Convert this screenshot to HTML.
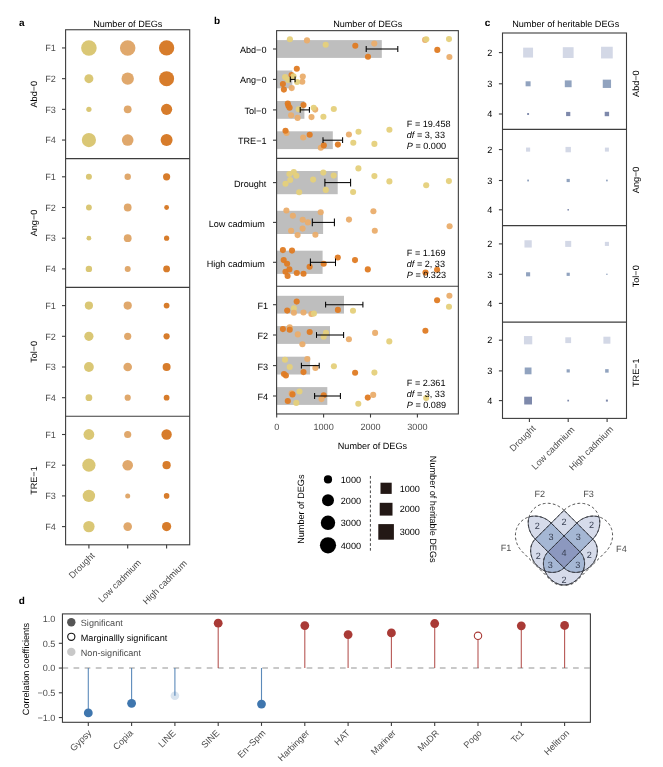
<!DOCTYPE html>
<html lang="en"><head><meta charset="utf-8"><title>Figure</title>
<style>html,body{margin:0;padding:0;background:#fff;}body{width:663px;height:767px;overflow:hidden;}svg{display:block;font-family:'Liberation Sans', Arial, sans-serif;}</style></head><body>
<svg width="663" height="767" viewBox="0 0 663 767" font-family='"Liberation Sans", Arial, sans-serif' shape-rendering="geometricPrecision" text-rendering="geometricPrecision">
<rect x="0" y="0" width="663" height="767" fill="#ffffff"/>
<g id="panel-a">
<text x="18.90" y="25.90" font-size="10" fill="#000" text-anchor="start" font-weight="bold">a</text>
<text x="127.80" y="27.00" font-size="9.1" fill="#000" text-anchor="middle">Number of DEGs</text>
<text transform="translate(36.90,94.17) rotate(-90)" font-size="9.1" fill="#000" text-anchor="middle" dy="0">Abd−0</text>
<line x1="62.00" y1="47.95" x2="65.60" y2="47.95" stroke="#3d3d3d" stroke-width="1.1"/>
<text x="55.80" y="51.15" font-size="9.1" fill="#4d4d4d" text-anchor="end">F1</text>
<circle cx="88.90" cy="47.95" r="7.80" fill="#DAC775"/>
<circle cx="127.70" cy="47.95" r="7.75" fill="#E0A86C"/>
<circle cx="166.60" cy="47.95" r="7.65" fill="#D77C2B"/>
<line x1="62.00" y1="78.65" x2="65.60" y2="78.65" stroke="#3d3d3d" stroke-width="1.1"/>
<text x="55.80" y="81.85" font-size="9.1" fill="#4d4d4d" text-anchor="end">F2</text>
<circle cx="88.90" cy="78.65" r="4.50" fill="#DAC775"/>
<circle cx="127.70" cy="78.65" r="6.20" fill="#E0A86C"/>
<circle cx="166.60" cy="78.65" r="7.50" fill="#D77C2B"/>
<line x1="62.00" y1="109.35" x2="65.60" y2="109.35" stroke="#3d3d3d" stroke-width="1.1"/>
<text x="55.80" y="112.55" font-size="9.1" fill="#4d4d4d" text-anchor="end">F3</text>
<circle cx="88.90" cy="109.35" r="2.65" fill="#DAC775"/>
<circle cx="127.70" cy="109.35" r="3.90" fill="#E0A86C"/>
<circle cx="166.60" cy="109.35" r="5.60" fill="#D77C2B"/>
<line x1="62.00" y1="140.05" x2="65.60" y2="140.05" stroke="#3d3d3d" stroke-width="1.1"/>
<text x="55.80" y="143.25" font-size="9.1" fill="#4d4d4d" text-anchor="end">F4</text>
<circle cx="88.90" cy="140.05" r="7.10" fill="#DAC775"/>
<circle cx="127.70" cy="140.05" r="5.80" fill="#E0A86C"/>
<circle cx="166.60" cy="140.05" r="6.00" fill="#D77C2B"/>
<text transform="translate(36.90,223.00) rotate(-90)" font-size="9.1" fill="#000" text-anchor="middle" dy="0">Ang−0</text>
<line x1="62.00" y1="176.80" x2="65.60" y2="176.80" stroke="#3d3d3d" stroke-width="1.1"/>
<text x="55.80" y="180.00" font-size="9.1" fill="#4d4d4d" text-anchor="end">F1</text>
<circle cx="88.90" cy="176.80" r="3.00" fill="#DAC775"/>
<circle cx="127.70" cy="176.80" r="3.20" fill="#E0A86C"/>
<circle cx="166.60" cy="176.80" r="3.60" fill="#D77C2B"/>
<line x1="62.00" y1="207.50" x2="65.60" y2="207.50" stroke="#3d3d3d" stroke-width="1.1"/>
<text x="55.80" y="210.70" font-size="9.1" fill="#4d4d4d" text-anchor="end">F2</text>
<circle cx="88.90" cy="207.50" r="2.90" fill="#DAC775"/>
<circle cx="127.70" cy="207.50" r="3.90" fill="#E0A86C"/>
<circle cx="166.60" cy="207.50" r="2.40" fill="#D77C2B"/>
<line x1="62.00" y1="238.20" x2="65.60" y2="238.20" stroke="#3d3d3d" stroke-width="1.1"/>
<text x="55.80" y="241.40" font-size="9.1" fill="#4d4d4d" text-anchor="end">F3</text>
<circle cx="88.90" cy="238.20" r="2.40" fill="#DAC775"/>
<circle cx="127.70" cy="238.20" r="3.90" fill="#E0A86C"/>
<circle cx="166.60" cy="238.20" r="2.60" fill="#D77C2B"/>
<line x1="62.00" y1="268.90" x2="65.60" y2="268.90" stroke="#3d3d3d" stroke-width="1.1"/>
<text x="55.80" y="272.10" font-size="9.1" fill="#4d4d4d" text-anchor="end">F4</text>
<circle cx="88.90" cy="268.90" r="3.20" fill="#DAC775"/>
<circle cx="127.70" cy="268.90" r="3.00" fill="#E0A86C"/>
<circle cx="166.60" cy="268.90" r="3.40" fill="#D77C2B"/>
<text transform="translate(36.90,351.85) rotate(-90)" font-size="9.1" fill="#000" text-anchor="middle" dy="0">Tol−0</text>
<line x1="62.00" y1="305.60" x2="65.60" y2="305.60" stroke="#3d3d3d" stroke-width="1.1"/>
<text x="55.80" y="308.80" font-size="9.1" fill="#4d4d4d" text-anchor="end">F1</text>
<circle cx="88.90" cy="305.60" r="4.10" fill="#DAC775"/>
<circle cx="127.70" cy="305.60" r="4.10" fill="#E0A86C"/>
<circle cx="166.60" cy="305.60" r="2.90" fill="#D77C2B"/>
<line x1="62.00" y1="336.30" x2="65.60" y2="336.30" stroke="#3d3d3d" stroke-width="1.1"/>
<text x="55.80" y="339.50" font-size="9.1" fill="#4d4d4d" text-anchor="end">F2</text>
<circle cx="88.90" cy="336.30" r="4.60" fill="#DAC775"/>
<circle cx="127.70" cy="336.30" r="3.60" fill="#E0A86C"/>
<circle cx="166.60" cy="336.30" r="3.10" fill="#D77C2B"/>
<line x1="62.00" y1="367.00" x2="65.60" y2="367.00" stroke="#3d3d3d" stroke-width="1.1"/>
<text x="55.80" y="370.20" font-size="9.1" fill="#4d4d4d" text-anchor="end">F3</text>
<circle cx="88.90" cy="367.00" r="4.90" fill="#DAC775"/>
<circle cx="127.70" cy="367.00" r="4.30" fill="#E0A86C"/>
<circle cx="166.60" cy="367.00" r="4.00" fill="#D77C2B"/>
<line x1="62.00" y1="397.70" x2="65.60" y2="397.70" stroke="#3d3d3d" stroke-width="1.1"/>
<text x="55.80" y="400.90" font-size="9.1" fill="#4d4d4d" text-anchor="end">F4</text>
<circle cx="88.90" cy="397.70" r="3.40" fill="#DAC775"/>
<circle cx="127.70" cy="397.70" r="3.10" fill="#E0A86C"/>
<circle cx="166.60" cy="397.70" r="2.90" fill="#D77C2B"/>
<text transform="translate(36.90,480.55) rotate(-90)" font-size="9.1" fill="#000" text-anchor="middle" dy="0">TRE−1</text>
<line x1="62.00" y1="434.50" x2="65.60" y2="434.50" stroke="#3d3d3d" stroke-width="1.1"/>
<text x="55.80" y="437.70" font-size="9.1" fill="#4d4d4d" text-anchor="end">F1</text>
<circle cx="88.90" cy="434.50" r="5.40" fill="#DAC775"/>
<circle cx="127.70" cy="434.50" r="3.60" fill="#E0A86C"/>
<circle cx="166.60" cy="434.50" r="5.20" fill="#D77C2B"/>
<line x1="62.00" y1="465.20" x2="65.60" y2="465.20" stroke="#3d3d3d" stroke-width="1.1"/>
<text x="55.80" y="468.40" font-size="9.1" fill="#4d4d4d" text-anchor="end">F2</text>
<circle cx="88.90" cy="465.20" r="6.60" fill="#DAC775"/>
<circle cx="127.70" cy="465.20" r="5.30" fill="#E0A86C"/>
<circle cx="166.60" cy="465.20" r="4.10" fill="#D77C2B"/>
<line x1="62.00" y1="495.90" x2="65.60" y2="495.90" stroke="#3d3d3d" stroke-width="1.1"/>
<text x="55.80" y="499.10" font-size="9.1" fill="#4d4d4d" text-anchor="end">F3</text>
<circle cx="88.90" cy="495.90" r="6.20" fill="#DAC775"/>
<circle cx="127.70" cy="495.90" r="2.50" fill="#E0A86C"/>
<circle cx="166.60" cy="495.90" r="2.80" fill="#D77C2B"/>
<line x1="62.00" y1="526.60" x2="65.60" y2="526.60" stroke="#3d3d3d" stroke-width="1.1"/>
<text x="55.80" y="529.80" font-size="9.1" fill="#4d4d4d" text-anchor="end">F4</text>
<circle cx="88.90" cy="526.60" r="5.70" fill="#DAC775"/>
<circle cx="127.70" cy="526.60" r="4.30" fill="#E0A86C"/>
<circle cx="166.60" cy="526.60" r="4.60" fill="#D77C2B"/>
<rect x="65.60" y="29.75" width="124.10" height="515.05" fill="none" stroke="#3d3d3d" stroke-width="1.1"/>
<line x1="65.60" y1="158.60" x2="189.70" y2="158.60" stroke="#3d3d3d" stroke-width="1.1"/>
<line x1="65.60" y1="287.40" x2="189.70" y2="287.40" stroke="#3d3d3d" stroke-width="1.1"/>
<line x1="65.60" y1="416.30" x2="189.70" y2="416.30" stroke="#3d3d3d" stroke-width="1.1"/>
<line x1="88.90" y1="544.80" x2="88.90" y2="548.40" stroke="#3d3d3d" stroke-width="1.1"/>
<text transform="translate(95.30,556.10) rotate(-45)" font-size="9.1" fill="#4d4d4d" text-anchor="end" dy="0">Drought</text>
<line x1="127.70" y1="544.80" x2="127.70" y2="548.40" stroke="#3d3d3d" stroke-width="1.1"/>
<text transform="translate(141.70,563.40) rotate(-45)" font-size="9.1" fill="#4d4d4d" text-anchor="end" dy="0">Low cadmium</text>
<line x1="166.60" y1="544.80" x2="166.60" y2="548.40" stroke="#3d3d3d" stroke-width="1.1"/>
<text transform="translate(187.50,564.00) rotate(-45)" font-size="9.1" fill="#4d4d4d" text-anchor="end" dy="0">High cadmium</text>
</g>
<g id="panel-b">
<text x="214.00" y="24.00" font-size="10" fill="#000" text-anchor="start" font-weight="bold">b</text>
<text x="367.80" y="27.00" font-size="9.1" fill="#000" text-anchor="middle">Number of DEGs</text>
<rect x="276.60" y="40.10" width="105.20" height="17.80" fill="#BEBEBE"/>
<rect x="276.60" y="70.50" width="15.70" height="17.80" fill="#BEBEBE"/>
<rect x="276.60" y="101.00" width="27.80" height="17.80" fill="#BEBEBE"/>
<rect x="276.60" y="131.30" width="56.20" height="17.80" fill="#BEBEBE"/>
<circle cx="289.90" cy="39.20" r="3.05" fill="#E5D07B" fill-opacity="0.95"/>
<circle cx="307.00" cy="40.40" r="3.05" fill="#EAAD6C" fill-opacity="0.95"/>
<circle cx="325.70" cy="44.70" r="3.05" fill="#E5D07B" fill-opacity="0.95"/>
<circle cx="355.30" cy="45.80" r="3.05" fill="#DF7B23" fill-opacity="0.95"/>
<circle cx="374.30" cy="43.60" r="3.05" fill="#EAAD6C" fill-opacity="0.95"/>
<circle cx="368.00" cy="56.80" r="3.05" fill="#DF7B23" fill-opacity="0.95"/>
<circle cx="425.10" cy="39.90" r="3.05" fill="#EAAD6C" fill-opacity="0.95"/>
<circle cx="426.30" cy="39.30" r="3.05" fill="#E5D07B" fill-opacity="0.95"/>
<circle cx="449.00" cy="39.10" r="3.05" fill="#E5D07B" fill-opacity="0.95"/>
<circle cx="437.30" cy="49.90" r="3.05" fill="#DF7B23" fill-opacity="0.95"/>
<circle cx="449.40" cy="57.00" r="3.05" fill="#EAAD6C" fill-opacity="0.95"/>
<circle cx="296.80" cy="68.80" r="3.05" fill="#DF7B23" fill-opacity="0.95"/>
<circle cx="291.50" cy="75.10" r="3.05" fill="#DF7B23" fill-opacity="0.95"/>
<circle cx="285.10" cy="77.10" r="3.05" fill="#E5D07B" fill-opacity="0.95"/>
<circle cx="293.50" cy="76.30" r="3.05" fill="#E5D07B" fill-opacity="0.95"/>
<circle cx="288.10" cy="79.90" r="3.05" fill="#E5D07B" fill-opacity="0.95"/>
<circle cx="302.80" cy="76.60" r="3.05" fill="#EAAD6C" fill-opacity="0.95"/>
<circle cx="302.30" cy="81.70" r="3.05" fill="#EAAD6C" fill-opacity="0.95"/>
<circle cx="297.10" cy="82.00" r="3.05" fill="#E5D07B" fill-opacity="0.95"/>
<circle cx="282.90" cy="84.10" r="3.05" fill="#DF7B23" fill-opacity="0.95"/>
<circle cx="291.70" cy="88.10" r="3.05" fill="#EAAD6C" fill-opacity="0.95"/>
<circle cx="283.90" cy="89.60" r="3.05" fill="#DF7B23" fill-opacity="0.95"/>
<circle cx="287.80" cy="103.60" r="3.05" fill="#DF7B23" fill-opacity="0.95"/>
<circle cx="288.40" cy="105.80" r="3.05" fill="#DF7B23" fill-opacity="0.95"/>
<circle cx="289.60" cy="107.80" r="3.05" fill="#DF7B23" fill-opacity="0.95"/>
<circle cx="303.50" cy="105.10" r="3.05" fill="#DF7B23" fill-opacity="0.95"/>
<circle cx="298.70" cy="109.30" r="3.05" fill="#E5D07B" fill-opacity="0.95"/>
<circle cx="315.20" cy="109.60" r="3.05" fill="#EAAD6C" fill-opacity="0.95"/>
<circle cx="313.70" cy="107.80" r="3.05" fill="#E5D07B" fill-opacity="0.95"/>
<circle cx="333.80" cy="109.00" r="3.05" fill="#E5D07B" fill-opacity="0.95"/>
<circle cx="291.10" cy="115.20" r="3.05" fill="#EAAD6C" fill-opacity="0.95"/>
<circle cx="297.60" cy="117.90" r="3.05" fill="#EAAD6C" fill-opacity="0.95"/>
<circle cx="311.50" cy="117.10" r="3.05" fill="#EAAD6C" fill-opacity="0.95"/>
<circle cx="323.40" cy="116.80" r="3.05" fill="#E5D07B" fill-opacity="0.95"/>
<circle cx="286.60" cy="133.00" r="3.05" fill="#EAAD6C" fill-opacity="0.95"/>
<circle cx="285.50" cy="130.70" r="3.05" fill="#DF7B23" fill-opacity="0.95"/>
<circle cx="309.70" cy="134.80" r="3.05" fill="#DF7B23" fill-opacity="0.95"/>
<circle cx="303.20" cy="137.50" r="3.05" fill="#EAAD6C" fill-opacity="0.95"/>
<circle cx="320.80" cy="147.80" r="3.05" fill="#EAAD6C" fill-opacity="0.95"/>
<circle cx="323.80" cy="145.40" r="3.05" fill="#DF7B23" fill-opacity="0.95"/>
<circle cx="337.90" cy="144.60" r="3.05" fill="#DF7B23" fill-opacity="0.95"/>
<circle cx="348.90" cy="134.50" r="3.05" fill="#EAAD6C" fill-opacity="0.95"/>
<circle cx="358.50" cy="131.80" r="3.05" fill="#E5D07B" fill-opacity="0.95"/>
<circle cx="353.30" cy="142.80" r="3.05" fill="#E5D07B" fill-opacity="0.95"/>
<circle cx="374.40" cy="143.90" r="3.05" fill="#E5D07B" fill-opacity="0.95"/>
<circle cx="389.40" cy="129.80" r="3.05" fill="#E5D07B" fill-opacity="0.95"/>
<line x1="366.20" y1="49.00" x2="397.80" y2="49.00" stroke="#000" stroke-width="1.05"/>
<line x1="366.20" y1="46.10" x2="366.20" y2="51.90" stroke="#000" stroke-width="1.05"/>
<line x1="397.80" y1="46.10" x2="397.80" y2="51.90" stroke="#000" stroke-width="1.05"/>
<line x1="273.00" y1="49.00" x2="276.60" y2="49.00" stroke="#3d3d3d" stroke-width="1.1"/>
<text x="266.50" y="52.70" font-size="9.1" fill="#000" text-anchor="end">Abd−0</text>
<line x1="290.30" y1="79.40" x2="295.10" y2="79.40" stroke="#000" stroke-width="1.05"/>
<line x1="290.30" y1="76.50" x2="290.30" y2="82.30" stroke="#000" stroke-width="1.05"/>
<line x1="295.10" y1="76.50" x2="295.10" y2="82.30" stroke="#000" stroke-width="1.05"/>
<line x1="273.00" y1="79.40" x2="276.60" y2="79.40" stroke="#3d3d3d" stroke-width="1.1"/>
<text x="266.50" y="83.10" font-size="9.1" fill="#000" text-anchor="end">Ang−0</text>
<line x1="300.20" y1="109.90" x2="309.40" y2="109.90" stroke="#000" stroke-width="1.05"/>
<line x1="300.20" y1="107.00" x2="300.20" y2="112.80" stroke="#000" stroke-width="1.05"/>
<line x1="309.40" y1="107.00" x2="309.40" y2="112.80" stroke="#000" stroke-width="1.05"/>
<line x1="273.00" y1="109.90" x2="276.60" y2="109.90" stroke="#3d3d3d" stroke-width="1.1"/>
<text x="266.50" y="113.60" font-size="9.1" fill="#000" text-anchor="end">Tol−0</text>
<line x1="323.00" y1="140.20" x2="342.60" y2="140.20" stroke="#000" stroke-width="1.05"/>
<line x1="323.00" y1="137.30" x2="323.00" y2="143.10" stroke="#000" stroke-width="1.05"/>
<line x1="342.60" y1="137.30" x2="342.60" y2="143.10" stroke="#000" stroke-width="1.05"/>
<line x1="273.00" y1="140.20" x2="276.60" y2="140.20" stroke="#3d3d3d" stroke-width="1.1"/>
<text x="266.50" y="143.90" font-size="9.1" fill="#000" text-anchor="end">TRE−1</text>
<text x="406.80" y="127.30" font-size="9.1" fill="#000" text-anchor="start">F = 19.458</text>
<text x="406.80" y="138.10" font-size="9.1" fill="#000" text-anchor="start"><tspan font-style="italic">df</tspan> = 3, 33</text>
<text x="406.80" y="148.90" font-size="9.1" fill="#000" text-anchor="start"><tspan font-style="italic">P</tspan> = 0.000</text>
<rect x="276.60" y="171.00" width="61.10" height="23.20" fill="#BEBEBE"/>
<rect x="276.60" y="210.80" width="46.50" height="23.20" fill="#BEBEBE"/>
<rect x="276.60" y="250.70" width="46.00" height="23.20" fill="#BEBEBE"/>
<circle cx="293.80" cy="172.10" r="3.05" fill="#E5D07B" fill-opacity="0.95"/>
<circle cx="289.40" cy="174.00" r="3.05" fill="#E5D07B" fill-opacity="0.95"/>
<circle cx="296.40" cy="175.80" r="3.05" fill="#E5D07B" fill-opacity="0.95"/>
<circle cx="290.20" cy="180.00" r="3.05" fill="#E5D07B" fill-opacity="0.95"/>
<circle cx="285.50" cy="183.70" r="3.05" fill="#E5D07B" fill-opacity="0.95"/>
<circle cx="313.10" cy="179.60" r="3.05" fill="#E5D07B" fill-opacity="0.95"/>
<circle cx="323.30" cy="172.60" r="3.05" fill="#E5D07B" fill-opacity="0.95"/>
<circle cx="333.70" cy="175.60" r="3.05" fill="#E5D07B" fill-opacity="0.95"/>
<circle cx="299.20" cy="192.30" r="3.05" fill="#E5D07B" fill-opacity="0.95"/>
<circle cx="325.80" cy="189.90" r="3.05" fill="#E5D07B" fill-opacity="0.95"/>
<circle cx="358.40" cy="168.40" r="3.05" fill="#E5D07B" fill-opacity="0.95"/>
<circle cx="353.10" cy="192.00" r="3.05" fill="#E5D07B" fill-opacity="0.95"/>
<circle cx="374.40" cy="176.10" r="3.05" fill="#E5D07B" fill-opacity="0.95"/>
<circle cx="389.40" cy="181.40" r="3.05" fill="#E5D07B" fill-opacity="0.95"/>
<circle cx="426.20" cy="185.30" r="3.05" fill="#E5D07B" fill-opacity="0.95"/>
<circle cx="448.90" cy="181.10" r="3.05" fill="#E5D07B" fill-opacity="0.95"/>
<circle cx="286.40" cy="210.50" r="3.05" fill="#EAAD6C" fill-opacity="0.95"/>
<circle cx="292.90" cy="215.70" r="3.05" fill="#EAAD6C" fill-opacity="0.95"/>
<circle cx="302.70" cy="219.80" r="3.05" fill="#EAAD6C" fill-opacity="0.95"/>
<circle cx="307.90" cy="222.40" r="3.05" fill="#EAAD6C" fill-opacity="0.95"/>
<circle cx="320.70" cy="212.20" r="3.05" fill="#EAAD6C" fill-opacity="0.95"/>
<circle cx="302.60" cy="228.60" r="3.05" fill="#EAAD6C" fill-opacity="0.95"/>
<circle cx="291.10" cy="230.70" r="3.05" fill="#EAAD6C" fill-opacity="0.95"/>
<circle cx="297.60" cy="235.10" r="3.05" fill="#EAAD6C" fill-opacity="0.95"/>
<circle cx="315.40" cy="234.80" r="3.05" fill="#EAAD6C" fill-opacity="0.95"/>
<circle cx="349.00" cy="219.60" r="3.05" fill="#EAAD6C" fill-opacity="0.95"/>
<circle cx="373.40" cy="211.30" r="3.05" fill="#EAAD6C" fill-opacity="0.95"/>
<circle cx="374.80" cy="230.70" r="3.05" fill="#EAAD6C" fill-opacity="0.95"/>
<circle cx="449.60" cy="226.30" r="3.05" fill="#EAAD6C" fill-opacity="0.95"/>
<circle cx="282.90" cy="250.10" r="3.05" fill="#DF7B23" fill-opacity="0.95"/>
<circle cx="292.00" cy="250.60" r="3.05" fill="#DF7B23" fill-opacity="0.95"/>
<circle cx="283.70" cy="260.10" r="3.05" fill="#DF7B23" fill-opacity="0.95"/>
<circle cx="287.10" cy="263.80" r="3.05" fill="#DF7B23" fill-opacity="0.95"/>
<circle cx="289.40" cy="269.40" r="3.05" fill="#DF7B23" fill-opacity="0.95"/>
<circle cx="285.50" cy="271.70" r="3.05" fill="#DF7B23" fill-opacity="0.95"/>
<circle cx="287.60" cy="276.00" r="3.05" fill="#DF7B23" fill-opacity="0.95"/>
<circle cx="296.80" cy="273.00" r="3.05" fill="#DF7B23" fill-opacity="0.95"/>
<circle cx="303.50" cy="273.80" r="3.05" fill="#DF7B23" fill-opacity="0.95"/>
<circle cx="309.60" cy="266.80" r="3.05" fill="#DF7B23" fill-opacity="0.95"/>
<circle cx="323.70" cy="263.80" r="3.05" fill="#DF7B23" fill-opacity="0.95"/>
<circle cx="337.80" cy="257.50" r="3.05" fill="#DF7B23" fill-opacity="0.95"/>
<circle cx="355.00" cy="260.10" r="3.05" fill="#DF7B23" fill-opacity="0.95"/>
<circle cx="367.80" cy="269.40" r="3.05" fill="#DF7B23" fill-opacity="0.95"/>
<circle cx="425.50" cy="272.60" r="3.05" fill="#DF7B23" fill-opacity="0.95"/>
<circle cx="437.10" cy="269.80" r="3.05" fill="#DF7B23" fill-opacity="0.95"/>
<line x1="324.90" y1="182.60" x2="350.60" y2="182.60" stroke="#000" stroke-width="1.05"/>
<line x1="324.90" y1="178.80" x2="324.90" y2="186.40" stroke="#000" stroke-width="1.05"/>
<line x1="350.60" y1="178.80" x2="350.60" y2="186.40" stroke="#000" stroke-width="1.05"/>
<line x1="273.00" y1="182.60" x2="276.60" y2="182.60" stroke="#3d3d3d" stroke-width="1.1"/>
<text x="266.40" y="186.90" font-size="9.1" fill="#000" text-anchor="end">Drought</text>
<line x1="312.30" y1="222.40" x2="334.40" y2="222.40" stroke="#000" stroke-width="1.05"/>
<line x1="312.30" y1="218.60" x2="312.30" y2="226.20" stroke="#000" stroke-width="1.05"/>
<line x1="334.40" y1="218.60" x2="334.40" y2="226.20" stroke="#000" stroke-width="1.05"/>
<line x1="273.00" y1="222.40" x2="276.60" y2="222.40" stroke="#3d3d3d" stroke-width="1.1"/>
<text x="264.80" y="226.70" font-size="9.1" fill="#000" text-anchor="end">Low cadmium</text>
<line x1="310.40" y1="262.30" x2="335.50" y2="262.30" stroke="#000" stroke-width="1.05"/>
<line x1="310.40" y1="258.50" x2="310.40" y2="266.10" stroke="#000" stroke-width="1.05"/>
<line x1="335.50" y1="258.50" x2="335.50" y2="266.10" stroke="#000" stroke-width="1.05"/>
<line x1="273.00" y1="262.30" x2="276.60" y2="262.30" stroke="#3d3d3d" stroke-width="1.1"/>
<text x="264.80" y="266.60" font-size="9.1" fill="#000" text-anchor="end">High cadmium</text>
<text x="406.80" y="255.90" font-size="9.1" fill="#000" text-anchor="start">F = 1.169</text>
<text x="406.80" y="267.00" font-size="9.1" fill="#000" text-anchor="start"><tspan font-style="italic">df</tspan> = 2, 33</text>
<text x="406.80" y="277.70" font-size="9.1" fill="#000" text-anchor="start"><tspan font-style="italic">P</tspan> = 0.323</text>
<rect x="276.60" y="295.80" width="67.40" height="17.80" fill="#BEBEBE"/>
<rect x="276.60" y="326.10" width="53.40" height="17.80" fill="#BEBEBE"/>
<rect x="276.60" y="356.70" width="33.50" height="17.80" fill="#BEBEBE"/>
<rect x="276.60" y="387.10" width="50.70" height="17.80" fill="#BEBEBE"/>
<circle cx="296.70" cy="301.60" r="3.05" fill="#DF7B23" fill-opacity="0.95"/>
<circle cx="293.90" cy="308.40" r="3.05" fill="#E5D07B" fill-opacity="0.95"/>
<circle cx="287.20" cy="310.60" r="3.05" fill="#DF7B23" fill-opacity="0.95"/>
<circle cx="293.90" cy="312.70" r="3.05" fill="#EAAD6C" fill-opacity="0.95"/>
<circle cx="303.50" cy="312.50" r="3.05" fill="#EAAD6C" fill-opacity="0.95"/>
<circle cx="311.40" cy="314.00" r="3.05" fill="#EAAD6C" fill-opacity="0.95"/>
<circle cx="313.90" cy="313.60" r="3.05" fill="#E5D07B" fill-opacity="0.95"/>
<circle cx="337.90" cy="309.90" r="3.05" fill="#DF7B23" fill-opacity="0.95"/>
<circle cx="353.00" cy="310.80" r="3.05" fill="#E5D07B" fill-opacity="0.95"/>
<circle cx="449.40" cy="295.70" r="3.05" fill="#EAAD6C" fill-opacity="0.95"/>
<circle cx="437.10" cy="300.20" r="3.05" fill="#DF7B23" fill-opacity="0.95"/>
<circle cx="449.00" cy="306.80" r="3.05" fill="#E5D07B" fill-opacity="0.95"/>
<circle cx="282.90" cy="329.10" r="3.05" fill="#DF7B23" fill-opacity="0.95"/>
<circle cx="289.70" cy="327.30" r="3.05" fill="#EAAD6C" fill-opacity="0.95"/>
<circle cx="289.70" cy="329.70" r="3.05" fill="#DF7B23" fill-opacity="0.95"/>
<circle cx="297.80" cy="334.40" r="3.05" fill="#EAAD6C" fill-opacity="0.95"/>
<circle cx="309.70" cy="332.00" r="3.05" fill="#DF7B23" fill-opacity="0.95"/>
<circle cx="326.00" cy="332.90" r="3.05" fill="#E5D07B" fill-opacity="0.95"/>
<circle cx="323.70" cy="336.70" r="3.05" fill="#E5D07B" fill-opacity="0.95"/>
<circle cx="302.40" cy="344.30" r="3.05" fill="#EAAD6C" fill-opacity="0.95"/>
<circle cx="348.90" cy="339.20" r="3.05" fill="#EAAD6C" fill-opacity="0.95"/>
<circle cx="375.10" cy="332.90" r="3.05" fill="#EAAD6C" fill-opacity="0.95"/>
<circle cx="425.40" cy="330.70" r="3.05" fill="#DF7B23" fill-opacity="0.95"/>
<circle cx="389.30" cy="341.40" r="3.05" fill="#E5D07B" fill-opacity="0.95"/>
<circle cx="285.00" cy="359.80" r="3.05" fill="#E5D07B" fill-opacity="0.95"/>
<circle cx="307.30" cy="359.00" r="3.05" fill="#EAAD6C" fill-opacity="0.95"/>
<circle cx="289.70" cy="367.00" r="3.05" fill="#E5D07B" fill-opacity="0.95"/>
<circle cx="315.40" cy="367.90" r="3.05" fill="#EAAD6C" fill-opacity="0.95"/>
<circle cx="333.90" cy="366.20" r="3.05" fill="#E5D07B" fill-opacity="0.95"/>
<circle cx="303.50" cy="372.10" r="3.05" fill="#DF7B23" fill-opacity="0.95"/>
<circle cx="284.00" cy="374.00" r="3.05" fill="#DF7B23" fill-opacity="0.95"/>
<circle cx="285.90" cy="375.50" r="3.05" fill="#DF7B23" fill-opacity="0.95"/>
<circle cx="355.10" cy="372.80" r="3.05" fill="#DF7B23" fill-opacity="0.95"/>
<circle cx="374.40" cy="372.60" r="3.05" fill="#E5D07B" fill-opacity="0.95"/>
<circle cx="299.50" cy="391.50" r="3.05" fill="#E5D07B" fill-opacity="0.95"/>
<circle cx="291.60" cy="393.40" r="3.05" fill="#EAAD6C" fill-opacity="0.95"/>
<circle cx="292.50" cy="394.40" r="3.05" fill="#DF7B23" fill-opacity="0.95"/>
<circle cx="323.70" cy="395.30" r="3.05" fill="#DF7B23" fill-opacity="0.95"/>
<circle cx="321.50" cy="399.10" r="3.05" fill="#EAAD6C" fill-opacity="0.95"/>
<circle cx="287.80" cy="401.00" r="3.05" fill="#DF7B23" fill-opacity="0.95"/>
<circle cx="296.30" cy="402.90" r="3.05" fill="#E5D07B" fill-opacity="0.95"/>
<circle cx="367.80" cy="397.60" r="3.05" fill="#DF7B23" fill-opacity="0.95"/>
<circle cx="373.20" cy="394.90" r="3.05" fill="#EAAD6C" fill-opacity="0.95"/>
<circle cx="358.30" cy="403.80" r="3.05" fill="#E5D07B" fill-opacity="0.95"/>
<circle cx="426.20" cy="398.10" r="3.05" fill="#E5D07B" fill-opacity="0.95"/>
<line x1="325.60" y1="304.70" x2="362.90" y2="304.70" stroke="#000" stroke-width="1.05"/>
<line x1="325.60" y1="301.80" x2="325.60" y2="307.60" stroke="#000" stroke-width="1.05"/>
<line x1="362.90" y1="301.80" x2="362.90" y2="307.60" stroke="#000" stroke-width="1.05"/>
<line x1="273.00" y1="304.70" x2="276.60" y2="304.70" stroke="#3d3d3d" stroke-width="1.1"/>
<text x="268.00" y="308.60" font-size="9.1" fill="#000" text-anchor="end">F1</text>
<line x1="316.50" y1="335.00" x2="343.60" y2="335.00" stroke="#000" stroke-width="1.05"/>
<line x1="316.50" y1="332.10" x2="316.50" y2="337.90" stroke="#000" stroke-width="1.05"/>
<line x1="343.60" y1="332.10" x2="343.60" y2="337.90" stroke="#000" stroke-width="1.05"/>
<line x1="273.00" y1="335.00" x2="276.60" y2="335.00" stroke="#3d3d3d" stroke-width="1.1"/>
<text x="268.00" y="338.90" font-size="9.1" fill="#000" text-anchor="end">F2</text>
<line x1="301.40" y1="365.60" x2="319.20" y2="365.60" stroke="#000" stroke-width="1.05"/>
<line x1="301.40" y1="362.70" x2="301.40" y2="368.50" stroke="#000" stroke-width="1.05"/>
<line x1="319.20" y1="362.70" x2="319.20" y2="368.50" stroke="#000" stroke-width="1.05"/>
<line x1="273.00" y1="365.60" x2="276.60" y2="365.60" stroke="#3d3d3d" stroke-width="1.1"/>
<text x="268.00" y="369.50" font-size="9.1" fill="#000" text-anchor="end">F3</text>
<line x1="314.60" y1="396.00" x2="340.40" y2="396.00" stroke="#000" stroke-width="1.05"/>
<line x1="314.60" y1="393.10" x2="314.60" y2="398.90" stroke="#000" stroke-width="1.05"/>
<line x1="340.40" y1="393.10" x2="340.40" y2="398.90" stroke="#000" stroke-width="1.05"/>
<line x1="273.00" y1="396.00" x2="276.60" y2="396.00" stroke="#3d3d3d" stroke-width="1.1"/>
<text x="268.00" y="399.90" font-size="9.1" fill="#000" text-anchor="end">F4</text>
<text x="406.80" y="385.90" font-size="9.1" fill="#000" text-anchor="start">F = 2.361</text>
<text x="406.80" y="396.90" font-size="9.1" fill="#000" text-anchor="start"><tspan font-style="italic">df</tspan> = 3, 33</text>
<text x="406.80" y="408.00" font-size="9.1" fill="#000" text-anchor="start"><tspan font-style="italic">P</tspan> = 0.089</text>
<rect x="276.60" y="30.65" width="181.75" height="383.30" fill="none" stroke="#3d3d3d" stroke-width="1.1"/>
<line x1="276.60" y1="158.40" x2="458.35" y2="158.40" stroke="#3d3d3d" stroke-width="1.1"/>
<line x1="276.60" y1="286.20" x2="458.35" y2="286.20" stroke="#3d3d3d" stroke-width="1.1"/>
<line x1="276.70" y1="413.95" x2="276.70" y2="417.55" stroke="#3d3d3d" stroke-width="1.1"/>
<text x="276.70" y="430.00" font-size="9.1" fill="#4d4d4d" text-anchor="middle">0</text>
<line x1="323.60" y1="413.95" x2="323.60" y2="417.55" stroke="#3d3d3d" stroke-width="1.1"/>
<text x="323.60" y="430.00" font-size="9.1" fill="#4d4d4d" text-anchor="middle">1000</text>
<line x1="370.50" y1="413.95" x2="370.50" y2="417.55" stroke="#3d3d3d" stroke-width="1.1"/>
<text x="370.50" y="430.00" font-size="9.1" fill="#4d4d4d" text-anchor="middle">2000</text>
<line x1="417.40" y1="413.95" x2="417.40" y2="417.55" stroke="#3d3d3d" stroke-width="1.1"/>
<text x="417.40" y="430.00" font-size="9.1" fill="#4d4d4d" text-anchor="middle">3000</text>
<text x="372.40" y="449.20" font-size="9.1" fill="#000" text-anchor="middle">Number of DEGs</text>
</g>
<g id="legends">
<text transform="translate(304.10,509.20) rotate(-90)" font-size="9.1" fill="#000" text-anchor="middle" dy="0">Number of DEGs</text>
<circle cx="328.00" cy="479.40" r="4.10" fill="#000"/>
<text x="340.80" y="482.60" font-size="9.1" fill="#000" text-anchor="start">1000</text>
<circle cx="328.00" cy="500.30" r="6.00" fill="#000"/>
<text x="340.80" y="503.50" font-size="9.1" fill="#000" text-anchor="start">2000</text>
<circle cx="328.00" cy="522.80" r="7.20" fill="#000"/>
<text x="340.80" y="526.00" font-size="9.1" fill="#000" text-anchor="start">3000</text>
<circle cx="328.00" cy="545.30" r="8.10" fill="#000"/>
<text x="340.80" y="548.50" font-size="9.1" fill="#000" text-anchor="start">4000</text>
<line x1="370.40" y1="476.00" x2="370.40" y2="552.20" stroke="#333" stroke-width="0.9" stroke-dasharray="2.7 2.1"/>
<rect x="380.50" y="482.70" width="11.20" height="11.20" fill="#231815"/>
<text x="399.70" y="491.50" font-size="9.1" fill="#000" text-anchor="start">1000</text>
<rect x="379.70" y="502.80" width="12.80" height="12.80" fill="#231815"/>
<text x="399.70" y="512.40" font-size="9.1" fill="#000" text-anchor="start">2000</text>
<rect x="378.30" y="524.10" width="15.60" height="15.60" fill="#231815"/>
<text x="399.70" y="535.10" font-size="9.1" fill="#000" text-anchor="start">3000</text>
<text transform="translate(429.90,509.20) rotate(90)" font-size="9.1" fill="#000" text-anchor="middle" dy="0">Number of heritable DEGs</text>
</g>
<g id="panel-c">
<text x="484.80" y="25.90" font-size="10" fill="#000" text-anchor="start" font-weight="bold">c</text>
<text x="565.70" y="27.00" font-size="9.15" fill="#000" text-anchor="middle">Number of heritable DEGs</text>
<text transform="translate(638.60,83.60) rotate(-90)" font-size="9.1" fill="#000" text-anchor="middle" dy="0">Abd−0</text>
<line x1="498.90" y1="52.60" x2="502.50" y2="52.60" stroke="#3d3d3d" stroke-width="1.1"/>
<text x="489.80" y="55.80" font-size="9.1" fill="#000" text-anchor="middle">2</text>
<rect x="523.15" y="47.65" width="9.90" height="9.90" fill="#D3D8E6"/>
<rect x="562.80" y="47.20" width="10.80" height="10.80" fill="#D3D8E6"/>
<rect x="601.05" y="46.75" width="11.70" height="11.70" fill="#D3D8E6"/>
<line x1="498.90" y1="83.80" x2="502.50" y2="83.80" stroke="#3d3d3d" stroke-width="1.1"/>
<text x="489.80" y="87.00" font-size="9.1" fill="#000" text-anchor="middle">3</text>
<rect x="525.60" y="81.30" width="5.00" height="5.00" fill="#91A3BF"/>
<rect x="564.80" y="80.40" width="6.80" height="6.80" fill="#91A3BF"/>
<rect x="602.75" y="79.65" width="8.30" height="8.30" fill="#91A3BF"/>
<line x1="498.90" y1="114.00" x2="502.50" y2="114.00" stroke="#3d3d3d" stroke-width="1.1"/>
<text x="489.80" y="117.20" font-size="9.1" fill="#000" text-anchor="middle">4</text>
<rect x="527.15" y="113.05" width="1.90" height="1.90" fill="#7E89AB"/>
<rect x="566.10" y="111.90" width="4.20" height="4.20" fill="#7E89AB"/>
<rect x="604.70" y="111.80" width="4.40" height="4.40" fill="#7E89AB"/>
<text transform="translate(638.60,179.90) rotate(-90)" font-size="9.1" fill="#000" text-anchor="middle" dy="0">Ang−0</text>
<line x1="498.90" y1="149.60" x2="502.50" y2="149.60" stroke="#3d3d3d" stroke-width="1.1"/>
<text x="489.80" y="152.80" font-size="9.1" fill="#000" text-anchor="middle">2</text>
<rect x="526.05" y="147.55" width="4.10" height="4.10" fill="#D3D8E6"/>
<rect x="565.50" y="146.90" width="5.40" height="5.40" fill="#D3D8E6"/>
<rect x="604.90" y="147.60" width="4.00" height="4.00" fill="#D3D8E6"/>
<line x1="498.90" y1="180.50" x2="502.50" y2="180.50" stroke="#3d3d3d" stroke-width="1.1"/>
<text x="489.80" y="183.70" font-size="9.1" fill="#000" text-anchor="middle">3</text>
<rect x="527.20" y="179.60" width="1.80" height="1.80" fill="#91A3BF"/>
<rect x="566.60" y="178.90" width="3.20" height="3.20" fill="#91A3BF"/>
<rect x="606.05" y="179.65" width="1.70" height="1.70" fill="#91A3BF"/>
<line x1="498.90" y1="209.80" x2="502.50" y2="209.80" stroke="#3d3d3d" stroke-width="1.1"/>
<text x="489.80" y="213.00" font-size="9.1" fill="#000" text-anchor="middle">4</text>
<rect x="567.45" y="209.05" width="1.50" height="1.50" fill="#7E89AB"/>
<text transform="translate(638.60,276.25) rotate(-90)" font-size="9.1" fill="#000" text-anchor="middle" dy="0">Tol−0</text>
<line x1="498.90" y1="243.90" x2="502.50" y2="243.90" stroke="#3d3d3d" stroke-width="1.1"/>
<text x="489.80" y="247.10" font-size="9.1" fill="#000" text-anchor="middle">2</text>
<rect x="524.45" y="240.25" width="7.30" height="7.30" fill="#D3D8E6"/>
<rect x="565.20" y="240.90" width="6.00" height="6.00" fill="#D3D8E6"/>
<rect x="604.85" y="241.85" width="4.10" height="4.10" fill="#D3D8E6"/>
<line x1="498.90" y1="274.30" x2="502.50" y2="274.30" stroke="#3d3d3d" stroke-width="1.1"/>
<text x="489.80" y="277.50" font-size="9.1" fill="#000" text-anchor="middle">3</text>
<rect x="526.05" y="272.25" width="4.10" height="4.10" fill="#91A3BF"/>
<rect x="566.60" y="272.70" width="3.20" height="3.20" fill="#91A3BF"/>
<rect x="606.25" y="273.65" width="1.30" height="1.30" fill="#91A3BF"/>
<line x1="498.90" y1="303.40" x2="502.50" y2="303.40" stroke="#3d3d3d" stroke-width="1.1"/>
<text x="489.80" y="306.60" font-size="9.1" fill="#000" text-anchor="middle">4</text>
<text transform="translate(638.60,372.65) rotate(-90)" font-size="9.1" fill="#000" text-anchor="middle" dy="0">TRE−1</text>
<line x1="498.90" y1="340.20" x2="502.50" y2="340.20" stroke="#3d3d3d" stroke-width="1.1"/>
<text x="489.80" y="343.40" font-size="9.1" fill="#000" text-anchor="middle">2</text>
<rect x="523.95" y="336.05" width="8.30" height="8.30" fill="#D3D8E6"/>
<rect x="565.30" y="337.30" width="5.80" height="5.80" fill="#D3D8E6"/>
<rect x="603.40" y="336.70" width="7.00" height="7.00" fill="#D3D8E6"/>
<line x1="498.90" y1="370.90" x2="502.50" y2="370.90" stroke="#3d3d3d" stroke-width="1.1"/>
<text x="489.80" y="374.10" font-size="9.1" fill="#000" text-anchor="middle">3</text>
<rect x="524.70" y="367.50" width="6.80" height="6.80" fill="#91A3BF"/>
<rect x="566.60" y="369.30" width="3.20" height="3.20" fill="#91A3BF"/>
<rect x="605.15" y="369.15" width="3.50" height="3.50" fill="#91A3BF"/>
<line x1="498.90" y1="400.60" x2="502.50" y2="400.60" stroke="#3d3d3d" stroke-width="1.1"/>
<text x="489.80" y="403.80" font-size="9.1" fill="#000" text-anchor="middle">4</text>
<rect x="524.20" y="396.70" width="7.80" height="7.80" fill="#7E89AB"/>
<rect x="567.35" y="399.75" width="1.70" height="1.70" fill="#7E89AB"/>
<rect x="605.90" y="399.60" width="2.00" height="2.00" fill="#7E89AB"/>
<rect x="502.50" y="33.00" width="124.00" height="385.40" fill="none" stroke="#3d3d3d" stroke-width="1.1"/>
<line x1="502.50" y1="129.40" x2="626.50" y2="129.40" stroke="#3d3d3d" stroke-width="1.1"/>
<line x1="502.50" y1="225.60" x2="626.50" y2="225.60" stroke="#3d3d3d" stroke-width="1.1"/>
<line x1="502.50" y1="322.10" x2="626.50" y2="322.10" stroke="#3d3d3d" stroke-width="1.1"/>
<line x1="529.40" y1="418.40" x2="529.40" y2="422.00" stroke="#3d3d3d" stroke-width="1.1"/>
<text transform="translate(536.20,429.00) rotate(-45)" font-size="9.1" fill="#4d4d4d" text-anchor="end" dy="0">Drought</text>
<line x1="568.20" y1="418.40" x2="568.20" y2="422.00" stroke="#3d3d3d" stroke-width="1.1"/>
<text transform="translate(575.00,430.50) rotate(-45)" font-size="9.1" fill="#4d4d4d" text-anchor="end" dy="0">Low cadmium</text>
<line x1="607.10" y1="418.40" x2="607.10" y2="422.00" stroke="#3d3d3d" stroke-width="1.1"/>
<text transform="translate(613.90,430.00) rotate(-45)" font-size="9.1" fill="#4d4d4d" text-anchor="end" dy="0">High cadmium</text>
</g>
<g id="venn">
<defs>
<path id="vsF1" d="M551.20,523.10 L550.13,522.09 L549.01,521.15 L547.83,520.29 L546.61,519.49 L545.35,518.77 L544.04,518.13 L542.71,517.58 L541.35,517.11 L539.98,516.72 L538.59,516.43 L537.19,516.23 L535.79,516.11 L534.39,516.09 L533.01,516.16 L531.64,516.32 L530.29,516.58 L528.97,516.92 L527.68,517.35 L526.44,517.86 L525.24,518.46 L524.08,519.15 L522.99,519.91 L521.95,520.74 L520.97,521.65 L520.07,522.62 L519.23,523.66 L518.47,524.76 L517.79,525.91 L517.19,527.12 L516.67,528.36 L516.24,529.65 L515.90,530.97 L515.65,532.31 L515.49,533.68 L515.42,535.07 L515.44,536.46 L515.55,537.86 L515.75,539.26 L516.05,540.65 L516.43,542.03 L516.90,543.39 L517.46,544.72 L518.09,546.02 L518.81,547.29 L519.61,548.51 L520.48,549.69 L521.42,550.81 L522.42,551.88 L551.20,580.66 L552.04,581.44 L552.94,582.15 L553.89,582.79 L554.89,583.37 L555.94,583.87 L557.03,584.30 L558.16,584.65 L559.32,584.92 L560.50,585.11 L561.71,585.22 L562.93,585.25 L564.17,585.19 L565.41,585.06 L566.65,584.84 L567.89,584.55 L569.11,584.18 L570.32,583.73 L571.52,583.21 L572.68,582.61 L573.82,581.94 L574.92,581.21 L575.98,580.41 L577.00,579.56 L577.97,578.64 L578.88,577.67 L579.74,576.66 L580.53,575.60 L581.27,574.50 L581.93,573.36 L582.53,572.19 L583.05,571.00 L583.50,569.79 L583.87,568.56 L584.17,567.32 L584.38,566.08 L584.52,564.84 L584.57,563.61 L584.54,562.38 L584.43,561.18 L584.24,559.99 L583.97,558.83 L583.62,557.71 L583.19,556.62 L582.69,555.57 L582.12,554.57 L581.47,553.62 L580.76,552.72 L579.98,551.88 Z"/>
<clipPath id="vcF1"><use href="#vsF1"/></clipPath>
<path id="vsF2" d="M564.00,510.30 L562.93,509.29 L561.81,508.36 L560.63,507.49 L559.41,506.69 L558.15,505.97 L556.84,505.33 L555.51,504.78 L554.15,504.31 L552.78,503.93 L551.38,503.63 L549.99,503.43 L548.59,503.31 L547.19,503.29 L545.80,503.36 L544.44,503.53 L543.09,503.78 L541.77,504.12 L540.48,504.55 L539.24,505.07 L538.04,505.67 L536.88,506.35 L535.78,507.11 L534.75,507.94 L533.77,508.85 L532.86,509.83 L532.03,510.86 L531.27,511.96 L530.59,513.11 L529.99,514.32 L529.47,515.56 L529.04,516.85 L528.70,518.17 L528.45,519.51 L528.28,520.88 L528.21,522.27 L528.24,523.66 L528.35,525.06 L528.55,526.46 L528.85,527.85 L529.23,529.23 L529.70,530.59 L530.25,531.92 L530.89,533.22 L531.61,534.49 L532.41,535.71 L533.28,536.89 L534.22,538.01 L535.22,539.08 L564.00,567.86 L564.84,568.64 L565.74,569.35 L566.69,570.00 L567.69,570.57 L568.74,571.07 L569.83,571.50 L570.96,571.85 L572.12,572.12 L573.30,572.31 L574.51,572.42 L575.73,572.45 L576.96,572.39 L578.21,572.26 L579.45,572.05 L580.68,571.75 L581.91,571.38 L583.12,570.93 L584.32,570.41 L585.48,569.81 L586.62,569.15 L587.72,568.41 L588.78,567.62 L589.80,566.76 L590.76,565.84 L591.68,564.88 L592.54,563.86 L593.33,562.80 L594.07,561.70 L594.73,560.56 L595.33,559.39 L595.85,558.20 L596.30,556.99 L596.67,555.76 L596.97,554.53 L597.18,553.28 L597.31,552.04 L597.37,550.81 L597.34,549.59 L597.23,548.38 L597.04,547.19 L596.77,546.04 L596.42,544.91 L595.99,543.82 L595.49,542.77 L594.92,541.77 L594.27,540.82 L593.56,539.92 L592.78,539.08 Z"/>
<clipPath id="vcF2"><use href="#vsF2"/></clipPath>
<path id="vsF3" d="M564.00,510.30 L565.07,509.29 L566.19,508.36 L567.37,507.49 L568.59,506.69 L569.85,505.97 L571.16,505.33 L572.49,504.78 L573.85,504.31 L575.22,503.93 L576.62,503.63 L578.01,503.43 L579.41,503.31 L580.81,503.29 L582.20,503.36 L583.56,503.53 L584.91,503.78 L586.23,504.12 L587.52,504.55 L588.76,505.07 L589.96,505.67 L591.12,506.35 L592.22,507.11 L593.25,507.94 L594.23,508.85 L595.14,509.83 L595.97,510.86 L596.73,511.96 L597.41,513.11 L598.01,514.32 L598.53,515.56 L598.96,516.85 L599.30,518.17 L599.55,519.51 L599.72,520.88 L599.79,522.27 L599.76,523.66 L599.65,525.06 L599.45,526.46 L599.15,527.85 L598.77,529.23 L598.30,530.59 L597.75,531.92 L597.11,533.22 L596.39,534.49 L595.59,535.71 L594.72,536.89 L593.78,538.01 L592.78,539.08 L564.00,567.86 L563.16,568.64 L562.26,569.35 L561.31,570.00 L560.31,570.57 L559.26,571.07 L558.17,571.50 L557.04,571.85 L555.88,572.12 L554.70,572.31 L553.49,572.42 L552.27,572.45 L551.04,572.39 L549.79,572.26 L548.55,572.05 L547.32,571.75 L546.09,571.38 L544.88,570.93 L543.68,570.41 L542.52,569.81 L541.38,569.15 L540.28,568.41 L539.22,567.62 L538.20,566.76 L537.24,565.84 L536.32,564.88 L535.46,563.86 L534.67,562.80 L533.93,561.70 L533.27,560.56 L532.67,559.39 L532.15,558.20 L531.70,556.99 L531.33,555.76 L531.03,554.53 L530.82,553.28 L530.69,552.04 L530.63,550.81 L530.66,549.59 L530.77,548.38 L530.96,547.19 L531.23,546.04 L531.58,544.91 L532.01,543.82 L532.51,542.77 L533.08,541.77 L533.73,540.82 L534.44,539.92 L535.22,539.08 Z"/>
<clipPath id="vcF3"><use href="#vsF3"/></clipPath>
<path id="vsF4" d="M576.80,523.10 L577.87,522.09 L578.99,521.15 L580.17,520.29 L581.39,519.49 L582.65,518.77 L583.96,518.13 L585.29,517.58 L586.65,517.11 L588.02,516.72 L589.41,516.43 L590.81,516.23 L592.21,516.11 L593.61,516.09 L594.99,516.16 L596.36,516.32 L597.71,516.58 L599.03,516.92 L600.32,517.35 L601.56,517.86 L602.76,518.46 L603.92,519.15 L605.01,519.91 L606.05,520.74 L607.03,521.65 L607.93,522.62 L608.77,523.66 L609.53,524.76 L610.21,525.91 L610.81,527.12 L611.33,528.36 L611.76,529.65 L612.10,530.97 L612.35,532.31 L612.51,533.68 L612.58,535.07 L612.56,536.46 L612.45,537.86 L612.25,539.26 L611.95,540.65 L611.57,542.03 L611.10,543.39 L610.54,544.72 L609.91,546.02 L609.19,547.29 L608.39,548.51 L607.52,549.69 L606.58,550.81 L605.58,551.88 L576.80,580.66 L575.96,581.44 L575.06,582.15 L574.11,582.79 L573.11,583.37 L572.06,583.87 L570.97,584.30 L569.84,584.65 L568.68,584.92 L567.50,585.11 L566.29,585.22 L565.07,585.25 L563.83,585.19 L562.59,585.06 L561.35,584.84 L560.11,584.55 L558.89,584.18 L557.68,583.73 L556.48,583.21 L555.32,582.61 L554.18,581.94 L553.08,581.21 L552.02,580.41 L551.00,579.56 L550.03,578.64 L549.12,577.67 L548.26,576.66 L547.47,575.60 L546.73,574.50 L546.07,573.36 L545.47,572.19 L544.95,571.00 L544.50,569.79 L544.13,568.56 L543.83,567.32 L543.62,566.08 L543.48,564.84 L543.43,563.61 L543.46,562.38 L543.57,561.18 L543.76,559.99 L544.03,558.83 L544.38,557.71 L544.81,556.62 L545.31,555.57 L545.88,554.57 L546.53,553.62 L547.24,552.72 L548.02,551.88 Z"/>
<clipPath id="vcF4"><use href="#vsF4"/></clipPath>
<clipPath id="voF1"><use href="#vsF2"/><use href="#vsF3"/><use href="#vsF4"/></clipPath>
<clipPath id="voF2"><use href="#vsF1"/><use href="#vsF3"/><use href="#vsF4"/></clipPath>
<clipPath id="voF3"><use href="#vsF1"/><use href="#vsF2"/><use href="#vsF4"/></clipPath>
<clipPath id="voF4"><use href="#vsF1"/><use href="#vsF2"/><use href="#vsF3"/></clipPath>
</defs>
<g clip-path="url(#vcF1)"><use href="#vsF2" fill="#D6DBEA"/></g>
<g clip-path="url(#vcF1)"><use href="#vsF3" fill="#D6DBEA"/></g>
<g clip-path="url(#vcF1)"><use href="#vsF4" fill="#D6DBEA"/></g>
<g clip-path="url(#vcF2)"><use href="#vsF3" fill="#D6DBEA"/></g>
<g clip-path="url(#vcF2)"><use href="#vsF4" fill="#D6DBEA"/></g>
<g clip-path="url(#vcF3)"><use href="#vsF4" fill="#D6DBEA"/></g>
<g clip-path="url(#vcF1)"><g clip-path="url(#vcF2)"><use href="#vsF3" fill="#A5B7D4"/></g></g>
<g clip-path="url(#vcF1)"><g clip-path="url(#vcF2)"><use href="#vsF4" fill="#A5B7D4"/></g></g>
<g clip-path="url(#vcF1)"><g clip-path="url(#vcF3)"><use href="#vsF4" fill="#A5B7D4"/></g></g>
<g clip-path="url(#vcF2)"><g clip-path="url(#vcF3)"><use href="#vsF4" fill="#A5B7D4"/></g></g>
<g clip-path="url(#vcF1)"><g clip-path="url(#vcF2)"><g clip-path="url(#vcF3)"><use href="#vsF4" fill="#8C98BF"/></g></g></g>
<use href="#vsF1" fill="none" stroke="#3a3a3a" stroke-width="0.9" stroke-dasharray="2.8 2.3"/>
<use href="#vsF2" fill="none" stroke="#3a3a3a" stroke-width="0.9" stroke-dasharray="2.8 2.3"/>
<use href="#vsF3" fill="none" stroke="#3a3a3a" stroke-width="0.9" stroke-dasharray="2.8 2.3"/>
<use href="#vsF4" fill="none" stroke="#3a3a3a" stroke-width="0.9" stroke-dasharray="2.8 2.3"/>
<g clip-path="url(#voF1)"><use href="#vsF1" fill="none" stroke="#2b2f3a" stroke-width="0.8"/></g>
<g clip-path="url(#voF2)"><use href="#vsF2" fill="none" stroke="#2b2f3a" stroke-width="0.8"/></g>
<g clip-path="url(#voF3)"><use href="#vsF3" fill="none" stroke="#2b2f3a" stroke-width="0.8"/></g>
<g clip-path="url(#voF4)"><use href="#vsF4" fill="none" stroke="#2b2f3a" stroke-width="0.8"/></g>
<text x="539.80" y="497.30" font-size="9.1" fill="#4d4d4d" text-anchor="middle">F2</text>
<text x="588.50" y="497.30" font-size="9.1" fill="#4d4d4d" text-anchor="middle">F3</text>
<text x="506.10" y="550.80" font-size="9.1" fill="#4d4d4d" text-anchor="middle">F1</text>
<text x="621.40" y="551.60" font-size="9.1" fill="#4d4d4d" text-anchor="middle">F4</text>
<text x="537.20" y="528.60" font-size="9.1" fill="#3a4154" text-anchor="middle">2</text>
<text x="564.00" y="525.00" font-size="9.1" fill="#3a4154" text-anchor="middle">2</text>
<text x="591.50" y="528.00" font-size="9.1" fill="#3a4154" text-anchor="middle">2</text>
<text x="551.00" y="540.20" font-size="9.1" fill="#3a4154" text-anchor="middle">3</text>
<text x="578.40" y="540.20" font-size="9.1" fill="#3a4154" text-anchor="middle">3</text>
<text x="564.00" y="555.60" font-size="9.1" fill="#3a4154" text-anchor="middle">4</text>
<text x="538.30" y="558.60" font-size="9.1" fill="#3a4154" text-anchor="middle">2</text>
<text x="589.40" y="558.20" font-size="9.1" fill="#3a4154" text-anchor="middle">2</text>
<text x="550.30" y="568.30" font-size="9.1" fill="#3a4154" text-anchor="middle">3</text>
<text x="577.80" y="568.30" font-size="9.1" fill="#3a4154" text-anchor="middle">3</text>
<text x="564.00" y="582.90" font-size="9.1" fill="#3a4154" text-anchor="middle">2</text>
</g>
<g id="panel-d">
<text x="18.80" y="603.70" font-size="10" fill="#000" text-anchor="start" font-weight="bold">d</text>
<text transform="translate(28.80,669.00) rotate(-90)" font-size="9.1" fill="#000" text-anchor="middle" dy="0">Correlation coefficients</text>
<text x="55.40" y="621.75" font-size="9.1" fill="#4d4d4d" text-anchor="end">1.0</text>
<line x1="58.85" y1="643.30" x2="62.45" y2="643.30" stroke="#3d3d3d" stroke-width="1.1"/>
<text x="55.40" y="646.50" font-size="9.1" fill="#4d4d4d" text-anchor="end">0.5</text>
<line x1="58.85" y1="668.05" x2="62.45" y2="668.05" stroke="#3d3d3d" stroke-width="1.1"/>
<text x="55.40" y="671.25" font-size="9.1" fill="#4d4d4d" text-anchor="end">0.0</text>
<line x1="58.85" y1="692.80" x2="62.45" y2="692.80" stroke="#3d3d3d" stroke-width="1.1"/>
<text x="55.40" y="696.00" font-size="9.1" fill="#4d4d4d" text-anchor="end">−0.5</text>
<line x1="58.85" y1="717.55" x2="62.45" y2="717.55" stroke="#3d3d3d" stroke-width="1.1"/>
<text x="55.40" y="720.75" font-size="9.1" fill="#4d4d4d" text-anchor="end">−1.0</text>
<line x1="62.45" y1="668.00" x2="590.40" y2="668.00" stroke="#949494" stroke-width="1.05" stroke-dasharray="5.7 5.4"/>
<line x1="88.30" y1="668.00" x2="88.30" y2="712.88" stroke="#3F76AE" stroke-width="1.1" stroke-opacity="0.85"/>
<circle cx="88.30" cy="712.88" r="4.40" fill="#3F76AE"/>
<line x1="88.30" y1="722.30" x2="88.30" y2="725.90" stroke="#3d3d3d" stroke-width="1.1"/>
<text transform="translate(91.90,733.60) rotate(-45)" font-size="9.1" fill="#4d4d4d" text-anchor="end" dy="0">Gypsy</text>
<line x1="131.60" y1="668.00" x2="131.60" y2="703.35" stroke="#3F76AE" stroke-width="1.1" stroke-opacity="0.85"/>
<circle cx="131.60" cy="703.35" r="4.40" fill="#3F76AE"/>
<line x1="131.60" y1="722.30" x2="131.60" y2="725.90" stroke="#3d3d3d" stroke-width="1.1"/>
<text transform="translate(133.60,733.60) rotate(-45)" font-size="9.1" fill="#4d4d4d" text-anchor="end" dy="0">Copia</text>
<line x1="174.90" y1="668.00" x2="174.90" y2="695.74" stroke="#3F76AE" stroke-width="1.1" stroke-opacity="0.85"/>
<circle cx="174.90" cy="695.74" r="4.30" fill="#3F76AE" fill-opacity="0.2"/>
<line x1="174.90" y1="722.30" x2="174.90" y2="725.90" stroke="#3d3d3d" stroke-width="1.1"/>
<text transform="translate(176.20,733.60) rotate(-45)" font-size="9.1" fill="#4d4d4d" text-anchor="end" dy="0">LINE</text>
<line x1="218.20" y1="668.00" x2="218.20" y2="623.22" stroke="#A93A36" stroke-width="1.1" stroke-opacity="0.85"/>
<circle cx="218.20" cy="623.22" r="4.40" fill="#A93A36"/>
<line x1="218.20" y1="722.30" x2="218.20" y2="725.90" stroke="#3d3d3d" stroke-width="1.1"/>
<text transform="translate(220.00,733.60) rotate(-45)" font-size="9.1" fill="#4d4d4d" text-anchor="end" dy="0">SINE</text>
<line x1="261.50" y1="668.00" x2="261.50" y2="704.09" stroke="#3F76AE" stroke-width="1.1" stroke-opacity="0.85"/>
<circle cx="261.50" cy="704.09" r="4.40" fill="#3F76AE"/>
<line x1="261.50" y1="722.30" x2="261.50" y2="725.90" stroke="#3d3d3d" stroke-width="1.1"/>
<text transform="translate(266.00,733.60) rotate(-45)" font-size="9.1" fill="#4d4d4d" text-anchor="end" dy="0">En−Spm</text>
<line x1="304.80" y1="668.00" x2="304.80" y2="625.53" stroke="#A93A36" stroke-width="1.1" stroke-opacity="0.85"/>
<circle cx="304.80" cy="625.53" r="4.40" fill="#A93A36"/>
<line x1="304.80" y1="722.30" x2="304.80" y2="725.90" stroke="#3d3d3d" stroke-width="1.1"/>
<text transform="translate(309.80,733.60) rotate(-45)" font-size="9.1" fill="#4d4d4d" text-anchor="end" dy="0">Harbinger</text>
<line x1="348.10" y1="668.00" x2="348.10" y2="634.61" stroke="#A93A36" stroke-width="1.1" stroke-opacity="0.85"/>
<circle cx="348.10" cy="634.61" r="4.40" fill="#A93A36"/>
<line x1="348.10" y1="722.30" x2="348.10" y2="725.90" stroke="#3d3d3d" stroke-width="1.1"/>
<text transform="translate(350.40,733.60) rotate(-45)" font-size="9.1" fill="#4d4d4d" text-anchor="end" dy="0">HAT</text>
<line x1="391.40" y1="668.00" x2="391.40" y2="632.89" stroke="#A93A36" stroke-width="1.1" stroke-opacity="0.85"/>
<circle cx="391.40" cy="632.89" r="4.40" fill="#A93A36"/>
<line x1="391.40" y1="722.30" x2="391.40" y2="725.90" stroke="#3d3d3d" stroke-width="1.1"/>
<text transform="translate(396.40,733.60) rotate(-45)" font-size="9.1" fill="#4d4d4d" text-anchor="end" dy="0">Mariner</text>
<line x1="434.70" y1="668.00" x2="434.70" y2="623.52" stroke="#A93A36" stroke-width="1.1" stroke-opacity="0.85"/>
<circle cx="434.70" cy="623.52" r="4.40" fill="#A93A36"/>
<line x1="434.70" y1="722.30" x2="434.70" y2="725.90" stroke="#3d3d3d" stroke-width="1.1"/>
<text transform="translate(439.60,733.60) rotate(-45)" font-size="9.1" fill="#4d4d4d" text-anchor="end" dy="0">MuDR</text>
<line x1="478.00" y1="668.00" x2="478.00" y2="635.84" stroke="#A93A36" stroke-width="1.1" stroke-opacity="0.85"/>
<circle cx="478.00" cy="635.84" r="3.7" fill="#fff" stroke="#A93A36" stroke-width="1.1"/>
<line x1="478.00" y1="722.30" x2="478.00" y2="725.90" stroke="#3d3d3d" stroke-width="1.1"/>
<text transform="translate(482.30,733.60) rotate(-45)" font-size="9.1" fill="#4d4d4d" text-anchor="end" dy="0">Pogo</text>
<line x1="521.30" y1="668.00" x2="521.30" y2="625.87" stroke="#A93A36" stroke-width="1.1" stroke-opacity="0.85"/>
<circle cx="521.30" cy="625.87" r="4.40" fill="#A93A36"/>
<line x1="521.30" y1="722.30" x2="521.30" y2="725.90" stroke="#3d3d3d" stroke-width="1.1"/>
<text transform="translate(524.70,733.60) rotate(-45)" font-size="9.1" fill="#4d4d4d" text-anchor="end" dy="0">Tc1</text>
<line x1="564.60" y1="668.00" x2="564.60" y2="625.48" stroke="#A93A36" stroke-width="1.1" stroke-opacity="0.85"/>
<circle cx="564.60" cy="625.48" r="4.40" fill="#A93A36"/>
<line x1="564.60" y1="722.30" x2="564.60" y2="725.90" stroke="#3d3d3d" stroke-width="1.1"/>
<text transform="translate(569.80,733.60) rotate(-45)" font-size="9.1" fill="#4d4d4d" text-anchor="end" dy="0">Helitron</text>
<rect x="62.45" y="613.90" width="527.95" height="108.40" fill="none" stroke="#3d3d3d" stroke-width="1.1"/>
<circle cx="71.30" cy="622.20" r="4.20" fill="#555555"/>
<text x="80.80" y="626.00" font-size="9.1" fill="#4d4d4d" text-anchor="start">Significant</text>
<circle cx="71.3" cy="636.8" r="3.6" fill="#fff" stroke="#111" stroke-width="1.1"/>
<text x="80.80" y="640.60" font-size="9.1" fill="#000" text-anchor="start">Marginallly significant</text>
<circle cx="71.30" cy="651.90" r="4.20" fill="#C8C8C8"/>
<text x="80.80" y="655.50" font-size="9.1" fill="#4d4d4d" text-anchor="start">Non-significant</text>
</g>
</svg></body></html>
